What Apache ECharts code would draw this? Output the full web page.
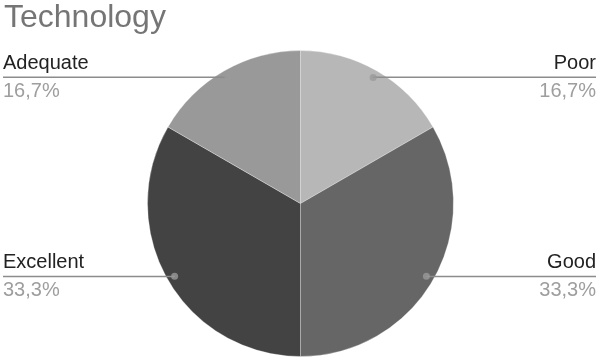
<!DOCTYPE html>
<html><head><meta charset="utf-8">
<script src="https://cdn.jsdelivr.net/npm/echarts@6/dist/echarts.min.js"></script>
<style>html,body{margin:0;padding:0;background:#fff}#c{width:599px;height:358px}</style>
</head><body><div id="c"></div>
<script>
const titleText = 'Technology';
const categories = ['Poor', 'Good', 'Excellent', 'Adequate'];
const values = [1, 2, 2, 1];
const sliceColors = ['#b7b7b7', '#666666', '#434343', '#999999'];

const total = values.reduce((a, b) => a + b, 0);
const fmtPct = p => (p).toFixed(1).replace('.', ',') + '%';
const pieData = categories.map((c, i) => ({ name: c, value: values[i], itemStyle: { color: sliceColors[i] } }));
let cum = 0;
const dotData = values.map(v => { const mid = cum + v / 2; cum += v; return [0.95, mid]; });

const FONT = '"Liberation Sans", Arial, sans-serif';
const CX = 300.5, CY = 203.5, R = 153;
const W = 599, EDGE = 3;
const chart = echarts.init(document.getElementById('c'));
chart.setOption({
  animation: false,
  title: { text: titleText, left: 4, top: 2, padding: 0,
    textStyle: { fontFamily: FONT, fontSize: 32, fontWeight: 'normal', color: '#757575' } },
  polar: { center: [CX, CY], radius: R },
  angleAxis: { type: 'value', min: 0, max: total, startAngle: 90, clockwise: true, show: false },
  radiusAxis: { type: 'value', min: 0, max: 1, show: false },
  series: [
    { type: 'pie', z: 1, center: [CX, CY], radius: R, startAngle: 90, clockwise: true,
      label: { show: false }, labelLine: { show: false }, silent: true,
      itemStyle: { borderColor: '#ffffff', borderWidth: 0.3 },
      data: pieData },
    { type: 'pie', z: 5, center: [CX, CY], radius: R * 0.95, startAngle: 90, clockwise: true, silent: true,
      avoidLabelOverlap: false,
      itemStyle: { color: 'rgba(255,255,255,0)' },
      label: { show: true, position: 'outer', alignTo: 'edge', edgeDistance: EDGE,
        formatter: p => '{n|' + p.name + '}\n{p|' + fmtPct(p.percent) + '}',
        rich: {
          n: { fontFamily: FONT, fontSize: 20, color: '#222222', lineHeight: 28 },
          p: { fontFamily: FONT, fontSize: 20, color: '#9e9e9e', lineHeight: 28 }
        } },
      labelLine: { show: true, length: 0.5, length2: 10, minTurnAngle: 0,
        lineStyle: { color: '#8c8c8c', width: 1.5 } },
      labelLayout: function (p) {
        const pts = p.labelLinePoints;
        if (!pts) return {};
        const isLeft = pts[pts.length - 1][0] < pts[0][0];
        const np = pts.map(q => [q[0], q[1]]);
        np[np.length - 1][0] = isLeft ? EDGE : W - EDGE;
        return { labelLinePoints: np };
      },
      data: pieData.map(d => ({ name: d.name, value: d.value })) },
    { type: 'scatter', z: 6, coordinateSystem: 'polar', symbol: 'circle', symbolSize: 7, silent: true,
      itemStyle: { color: '#9a9a9a' }, data: dotData }
  ]
});
</script></body></html>
